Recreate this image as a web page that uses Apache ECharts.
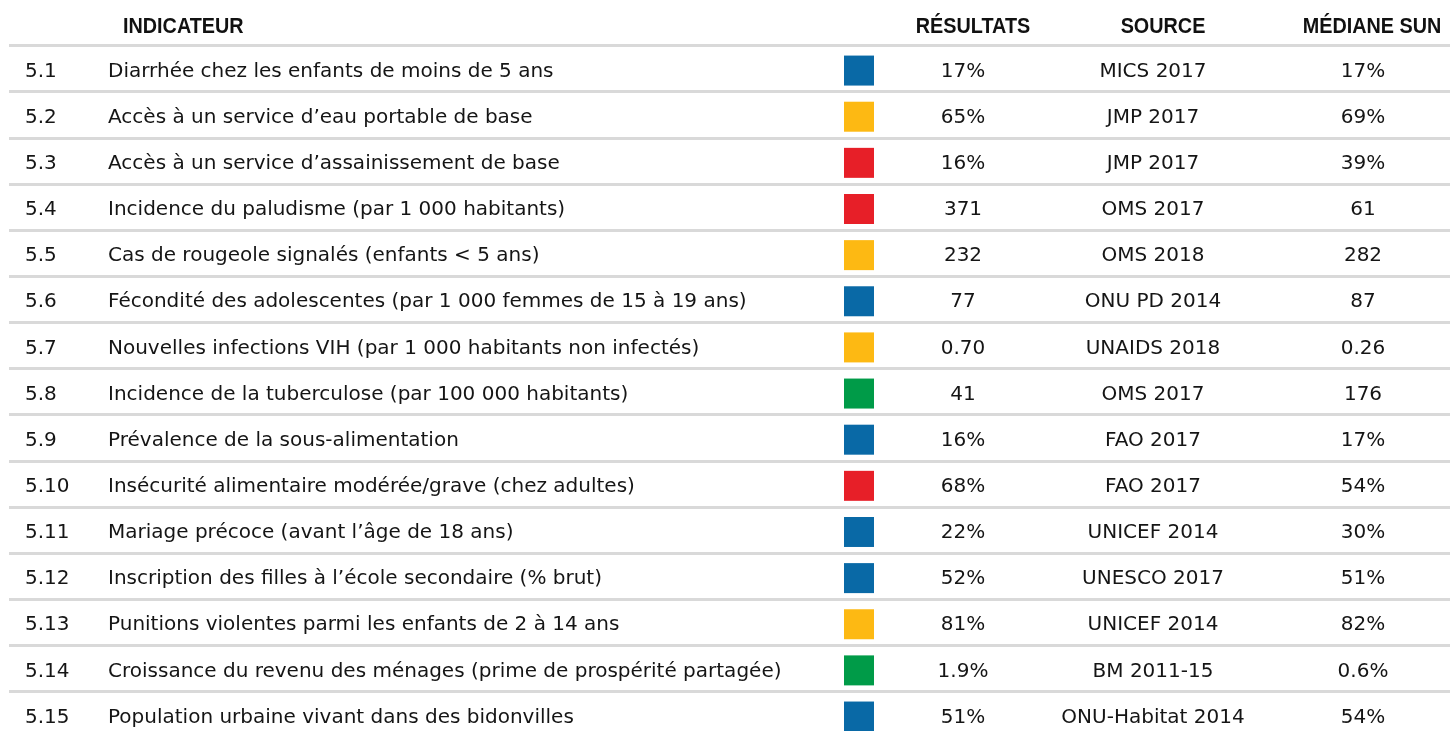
<!DOCTYPE html>
<html>
<head>
<meta charset="utf-8">
<script src="https://cdn.jsdelivr.net/npm/echarts@6/dist/echarts.min.js"></script>
<style>html,body{margin:0;padding:0;background:#fff;}#c{width:1450px;height:731px;}</style>
</head>
<body>
<div id="c"></div>
<script>
const headers = ['INDICATEUR', 'RÉSULTATS', 'SOURCE', 'MÉDIANE SUN'];
const ids = ['5.1','5.2','5.3','5.4','5.5','5.6','5.7','5.8','5.9','5.10','5.11','5.12','5.13','5.14','5.15'];
const indicators = [
  'Diarrhée chez les enfants de moins de 5 ans',
  'Accès à un service d’eau portable de base',
  'Accès à un service d’assainissement de base',
  'Incidence du paludisme (par 1 000 habitants)',
  'Cas de rougeole signalés (enfants < 5 ans)',
  'Fécondité des adolescentes (par 1 000 femmes de 15 à 19 ans)',
  'Nouvelles infections VIH (par 1 000 habitants non infectés)',
  'Incidence de la tuberculose (par 100 000 habitants)',
  'Prévalence de la sous-alimentation',
  'Insécurité alimentaire modérée/grave (chez adultes)',
  'Mariage précoce (avant l’âge de 18 ans)',
  'Inscription des filles à l’école secondaire (% brut)',
  'Punitions violentes parmi les enfants de 2 à 14 ans',
  'Croissance du revenu des ménages (prime de prospérité partagée)',
  'Population urbaine vivant dans des bidonvilles'
];
const status = ['blue','yellow','red','red','yellow','blue','yellow','green','blue','red','blue','blue','yellow','green','blue'];
const results = ['17%','65%','16%','371','232','77','0.70','41','16%','68%','22%','52%','81%','1.9%','51%'];
const sources = ['MICS 2017','JMP 2017','JMP 2017','OMS 2017','OMS 2018','ONU PD 2014','UNAIDS 2018','OMS 2017','FAO 2017','FAO 2017','UNICEF 2014','UNESCO 2017','UNICEF 2014','BM 2011-15','ONU-Habitat 2014'];
const medians = ['17%','69%','39%','61','282','87','0.26','176','17%','54%','30%','51%','82%','0.6%','54%'];

const palette = {blue:'#0969a6', yellow:'#fdb913', red:'#e71f28', green:'#009b48'};
const FONT = '"DejaVu Sans", sans-serif';
const HFONT = '"Liberation Sans", Arial, sans-serif';
const TXT = '#151515';
const COL = {id:25, ind:108, sq:859, res:963, src:1153, med:1363};
const HCOL = [{x:123, a:'left'}, {x:973, a:'center'}, {x:1163, a:'center'}, {x:1372, a:'center'}];

function textSeries(name, x, arr, align) {
  return {
    type:'scatter', name, symbolSize:0, silent:true,
    itemStyle:{opacity:1},
    data: arr.map((t, i) => ({value:[x, ids[i]], txt:t})),
    label:{show:true, position:'inside', align:align, verticalAlign:'middle', offset:[0,3],
      formatter:p => p.data.txt, color:TXT, fontSize:20, fontFamily:FONT}
  };
}

const chart = echarts.init(document.getElementById('c'));
chart.setOption({
  animation:false,
  grid:{left:9, right:0, top:45.5, height:692.1, outerBoundsMode:'none', containLabel:false},
  xAxis:{type:'value', min:9, max:1450, show:false},
  yAxis:{type:'category', data:ids, inverse:true, boundaryGap:true,
    axisLine:{show:false}, axisTick:{show:false}, axisLabel:{show:false},
    splitLine:{show:true, lineStyle:{color:'#d9d9d9', width:3}}},
  graphic: headers.map((h, i) => ({
    type:'text', x:HCOL[i].x, y:27, scaleX:0.88,
    style:{text:h, fill:'#111', font:'bold 22.5px ' + HFONT, textAlign:HCOL[i].a, textVerticalAlign:'middle'}
  })),
  series:[
    textSeries('id', COL.id, ids, 'left'),
    textSeries('ind', COL.ind, indicators, 'left'),
    {type:'scatter', name:'status', symbol:'rect', symbolSize:30, symbolOffset:[0,2], silent:true,
      itemStyle:{opacity:1},
      data: status.map((s, i) => ({value:[COL.sq, ids[i]], itemStyle:{color:palette[s], opacity:1}}))},
    textSeries('res', COL.res, results, 'center'),
    textSeries('src', COL.src, sources, 'center'),
    textSeries('med', COL.med, medians, 'center')
  ]
});
</script>
</body>
</html>
